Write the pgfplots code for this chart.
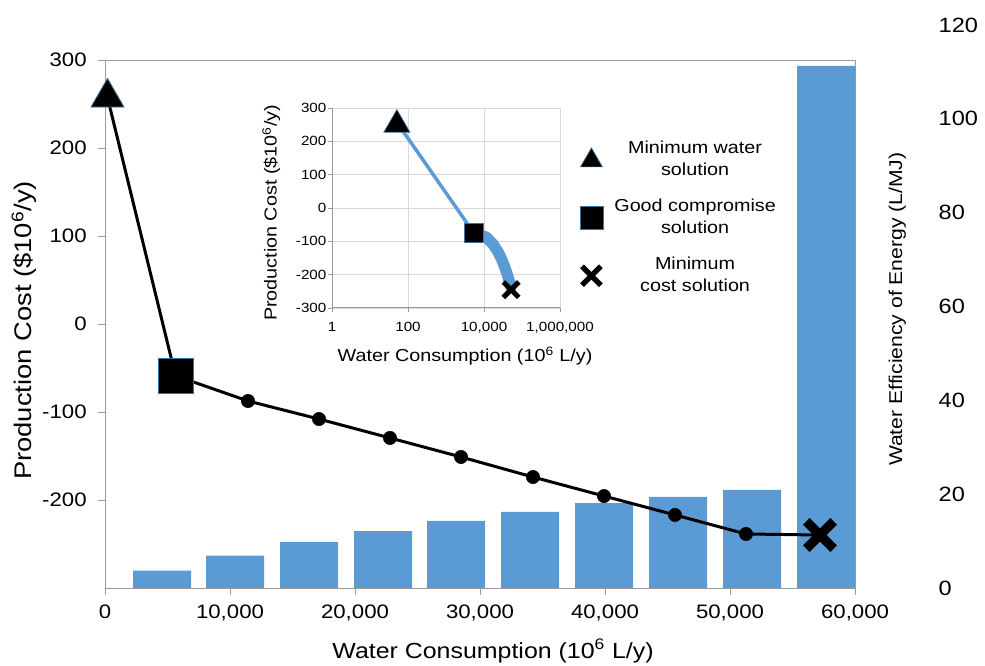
\documentclass[border=0pt]{standalone}
\usepackage{fontspec}
\setmainfont{Liberation Sans}[FakeStretch=1.14]
\usepackage{pgfplots}
\usepackage{pgfplotstable}
\pgfplotsset{compat=1.18}
\definecolor{barblue}{HTML}{5B9BD5}
\definecolor{axgray}{HTML}{9A9A9A}
\definecolor{gridgray}{HTML}{D9D9D9}
\definecolor{edgeblue}{HTML}{41719C}
\newcommand\fs[2]{\fontsize{#1}{#2}\selectfont}

\pgfplotstableread{
x y
4560 3.7
10400 6.9
16320 9.8
22240 12.1
28080 14.3
34000 16.2
39920 18.1
45840 19.4
51760 20.9
57680 111.3
}\bars

\pgfplotstableread{
x y
200 257.4
5640 -58.8
11440 -87.5
17120 -108
22800 -129.5
28480 -151.1
34240 -173.9
39920 -195.5
45600 -217
51280 -238.6
57200 -239.8
}\front

\pgfplotstableread{
x y
11440 -87.5
17120 -108
22800 -129.5
28480 -151.1
34240 -173.9
39920 -195.5
45600 -217
51280 -238.6
}\dots

\pgfplotstableread{
x y
51 257
5400 -75
}\insetA

\pgfplotstableread{
x y
5400 -75
11440 -87.5
17120 -108
22800 -129.5
28480 -151.1
34240 -173.9
39920 -195.5
45600 -217
51280 -238.6
}\insetB

\begin{document}
\begin{tikzpicture}
\path[use as bounding box] (0pt,0pt) rectangle (738.75pt,-499.5pt);

% bars on the secondary (right) axis
\begin{axis}[at={(78.75pt,-441pt)}, anchor=south west, scale only axis,
  width=562.5pt, height=422.25pt,
  xmin=0, xmax=60000, ymin=0, ymax=120, scaled ticks=false,
  hide x axis, axis y line*=right, y axis line style={draw=none},
  ytick={0,20,40,60,80,100,120}, yticklabels={0,20,40,60,80,100,120},
  major tick length=0pt, ytick style={draw=none},
  yticklabel style={anchor=west, inner sep=0pt, xshift=62.6pt, font=\fs{15.5}{18}},
  ybar, bar width=4640, bar shift=0pt]
\addplot[fill=barblue, draw=none] table {\bars};
\end{axis}

% main axis
\begin{axis}[at={(78.75pt,-441pt)}, anchor=south west, scale only axis,
  width=562.5pt, height=396pt,
  xmin=0, xmax=60000, ymin=-300, ymax=300, scaled ticks=false,
  axis line style={axgray, line width=0.75pt},
  xtick={0,10000,20000,30000,40000,50000,60000},
  xticklabels={0,{10,000},{20,000},{30,000},{40,000},{50,000},{60,000}},
  ytick={-200,-100,0,100,200,300},
  yticklabels={-200,-100,0,100,200,300},
  xtick pos=bottom, ytick pos=left, tick align=outside, major tick length=5.25pt,
  tick style={axgray, line width=0.75pt},
  ticklabel style={font=\fs{14.6}{17}},
  yticklabel style={xshift=-5pt},
  xticklabel style={yshift=-4pt},
  legend cell align=center,
  legend style={at={(0.6333,0.7005)}, anchor=west, draw=none, fill=none,
    inner sep=0pt, outer sep=0pt, row sep=10.2pt, column sep=8.6pt,
    cells={anchor=center},
    nodes={inner sep=0pt, text depth=, text height=, font=\fs{13}{16.5}}},
  ]
\addplot[black, line width=2.25pt, forget plot] table {\front};
\addplot[only marks, mark=*, mark size=5pt, black, forget plot] table {\dots};
\addplot[only marks, mark=triangle*, mark size=14.3pt,
  mark options={fill=black, draw=edgeblue, line width=0.6pt}, forget plot]
  coordinates {(200,257.4)};
\addplot[only marks, mark=square*, mark size=13.1pt,
  mark options={fill=black, draw=edgeblue, line width=0.6pt}, forget plot]
  coordinates {(5640,-58.8)};
\addplot[only marks, mark=x, mark size=14.5pt,
  mark options={draw=black, line width=7pt}, forget plot]
  coordinates {(57200,-239.8)};

\addlegendimage{only marks, mark=triangle*, mark size=9.5pt,
  mark options={fill=black, draw=edgeblue, line width=0.5pt}}
\addlegendentry{\begin{tabular}{@{}c@{}}Minimum water\\solution\end{tabular}}
\addlegendimage{only marks, mark=square*, mark size=8.6pt,
  mark options={fill=black, draw=edgeblue, line width=0.5pt}}
\addlegendentry{\begin{tabular}{@{}c@{}}Good compromise\\solution\end{tabular}}
\addlegendimage{only marks, mark=x, mark size=10pt,
  mark options={draw=black, line width=4pt}}
\addlegendentry{\begin{tabular}{@{}c@{}}Minimum\\cost solution\end{tabular}}
\end{axis}

% inset
\begin{axis}[at={(249pt,-231pt)}, anchor=south west, scale only axis,
  width=171pt, height=150pt,
  xmode=log, xmin=1, xmax=1000000, ymin=-300, ymax=300,
  axis x line*=bottom, axis y line*=left, axis line style={axgray, line width=0.75pt, -},
  xtick={1,100,10000,1000000}, xticklabels={1,100,{10,000},{1,000,000}},
  ytick={-300,-200,-100,0,100,200,300},
  yticklabels={-300,-200,-100,0,100,200,300},
  xminorticks=false, yminorticks=false,
  grid=major, grid style={gridgray, line width=0.6pt},
  tick align=outside, major tick length=3pt, tick style={axgray, line width=0.6pt},
  ticklabel style={font=\fs{10}{12}},
  yticklabel style={inner sep=1pt},
  xticklabel style={yshift=-4pt},
  ]
\addplot[barblue, line width=2.6pt] table {\insetA};
\addplot[barblue, line width=8.5pt, line join=round, line cap=round] table {\insetB};
\addplot[only marks, mark=triangle*, mark size=11.3pt,
  mark options={fill=black, draw=edgeblue, line width=0.5pt}]
  coordinates {(51,250)};
\addplot[only marks, mark=square*, mark size=7.3pt,
  mark options={fill=black, draw=edgeblue, line width=0.5pt}]
  coordinates {(5400,-75)};
\addplot[only marks, mark=x, mark size=8.2pt,
  mark options={draw=black, line width=3.8pt}]
  coordinates {(51500,-245)};
\end{axis}

% axis titles
\node[anchor=base, font=\fs{16.4}{19}] at (369.75pt,-493.7pt)
  {Water Consumption (10\textsuperscript{6} L/y)};
\node[anchor=base, rotate=90, font=\fs{18}{21}] at (23.8pt,-247.9pt)
  {Production Cost (\$10\textsuperscript{6}/y)};
\node[anchor=base, rotate=90, font=\fs{13.9}{16}] at (676.5pt,-231.9pt)
  {Water Efficiency of Energy (L/MJ)};
\node[anchor=base, font=\fs{13}{15}] at (348.75pt,-271.3pt)
  {Water Consumption (10\textsuperscript{6} L/y)};
\node[anchor=base, rotate=90, font=\fs{13}{15}] at (207.5pt,-159.75pt)
  {Production Cost (\$10\textsuperscript{6}/y)};
\end{tikzpicture}
\end{document}
